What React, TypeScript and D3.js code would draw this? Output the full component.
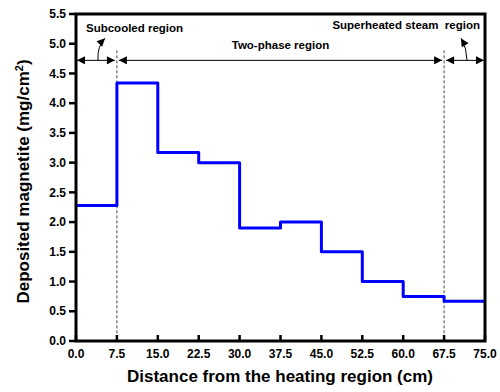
import React from 'react';
import * as d3 from 'd3';

// step edges (cm) and deposit per segment (mg/cm2)
const edges = [0, 7.5, 15, 22.5, 30, 37.5, 45, 52.5, 60, 67.5, 75];
const deposit = [2.28, 4.34, 3.17, 3.0, 1.9, 2.0, 1.5, 1.0, 0.75, 0.67];
const xTicks = [0, 7.5, 15, 22.5, 30, 37.5, 45, 52.5, 60, 67.5, 75];
const yTicks = [0, 0.5, 1, 1.5, 2, 2.5, 3, 3.5, 4, 4.5, 5, 5.5];
const boundaries = [7.5, 67.5];

const W = 500, H = 392;
const m = { left: 76, right: 15, top: 14, bottom: 51 };

export default function App() {
  const x = d3.scaleLinear().domain([0, 75]).range([m.left, W - m.right]);
  const y = d3.scaleLinear().domain([0, 5.5]).range([H - m.bottom, m.top]);

  const pts: [number, number][] = [];
  deposit.forEach((v, i) => {
    pts.push([edges[i], v]);
    pts.push([edges[i + 1], v]);
  });
  const line = d3.line<[number, number]>().x(d => x(d[0])).y(d => y(d[1]))(pts) || '';

  const font = 'Liberation Sans, Arial, sans-serif';
  const arrowY = y(4.72);
  const x0 = x(0), x1 = x(7.5), x2 = x(67.5), x3 = x(75);

  return (
    <svg width={W} height={H} style={{ position: 'absolute', left: 0, top: 0 }} fontFamily={font}>
      <defs>
        <marker id="ah" viewBox="0 0 10 10" refX="10" refY="5" markerWidth="10" markerHeight="8" orient="auto-start-reverse" markerUnits="userSpaceOnUse">
          <path d="M0,0 L10,5 L0,10 z" fill="#000" />
        </marker>
      </defs>
      <rect width={W} height={H} fill="#fff" />

      {/* region boundaries */}
      {boundaries.map(b => (
        <line key={b} x1={x(b)} x2={x(b)} y1={arrowY - 10} y2={y(0)} stroke="#333" strokeWidth={0.9} strokeDasharray="3,2" />
      ))}

      {/* region arrows */}
      <line x1={x0 + 1} x2={x1 - 2} y1={arrowY} y2={arrowY} stroke="#000" strokeWidth={1} markerStart="url(#ah)" markerEnd="url(#ah)" />
      <line x1={x1 + 2} x2={x2 - 2} y1={arrowY} y2={arrowY} stroke="#000" strokeWidth={1} markerStart="url(#ah)" markerEnd="url(#ah)" />
      <line x1={x2 + 2} x2={x3 - 1} y1={arrowY} y2={arrowY} stroke="#000" strokeWidth={1} markerStart="url(#ah)" markerEnd="url(#ah)" />
      <path d={`M${x0 + 22},${arrowY} Q${x0 + 21},${arrowY - 14} ${x0 + 29},${arrowY - 22}`} fill="none" stroke="#000" strokeWidth={1} markerEnd="url(#ah)" />
      <path d={`M${x3 - 18},${arrowY} Q${x3 - 18},${arrowY - 12} ${x3 - 24},${arrowY - 22}`} fill="none" stroke="#000" strokeWidth={1} markerEnd="url(#ah)" />
      <text x={x0 + 10} y={32} fontSize={11.5} fontWeight="bold">Subcooled region</text>
      <text x={(x1 + x2) / 2} y={49} fontSize={11.5} fontWeight="bold" textAnchor="middle">Two-phase region</text>
      <text x={x3 - 5} y={29} fontSize={11.5} fontWeight="bold" textAnchor="end" xmlSpace="preserve">Superheated steam  region</text>

      {/* data */}
      <path d={line} fill="none" stroke="#0000ff" strokeWidth={3} strokeLinejoin="round" />

      {/* frame */}
      <rect x={m.left} y={m.top} width={W - m.left - m.right} height={H - m.top - m.bottom} fill="none" stroke="#000" strokeWidth={3} />

      {/* y axis */}
      {yTicks.map(t => (
        <g key={t}>
          <line x1={m.left - 7} x2={m.left} y1={y(t)} y2={y(t)} stroke="#000" strokeWidth={2.5} />
          <text x={m.left - 10} y={y(t)} dy="0.35em" fontSize={12} fontWeight="bold" textAnchor="end">{t.toFixed(1)}</text>
        </g>
      ))}
      {/* x axis */}
      {xTicks.map(t => (
        <g key={t}>
          <line x1={x(t)} x2={x(t)} y1={y(0)} y2={y(0) - 6} stroke="#000" strokeWidth={2.5} />
          <text x={x(t)} y={y(0) + 17} fontSize={12} fontWeight="bold" textAnchor="middle">{t.toFixed(1)}</text>
        </g>
      ))}

      <text x={280} y={382} fontSize={17} fontWeight="bold" textAnchor="middle">Distance from the heating region (cm)</text>
      <text transform={`translate(29,${(m.top + H - m.bottom) / 2 + 4}) rotate(-90)`} fontSize={17} fontWeight="bold" textAnchor="middle">
        Deposited magnetite (mg/cm<tspan dy="-6" fontSize={11}>2</tspan><tspan dy="6">)</tspan>
      </text>
    </svg>
  );
}
